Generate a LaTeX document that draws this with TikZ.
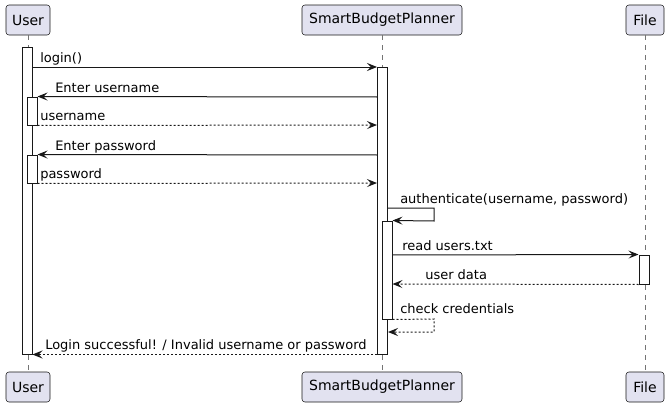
\documentclass[tikz,border=0pt]{standalone}
\usepackage{fontspec}
\setmainfont{DejaVu Sans}
\usetikzlibrary{arrows.meta,fit}

\definecolor{partfill}{HTML}{E2E2F0}
\definecolor{linecol}{HTML}{181818}

\tikzset{
	part/.style={draw=linecol,fill=partfill,rounded corners=2.2pt,inner sep=0pt,
		minimum height=22.5pt,font=\fontsize{10.5pt}{12pt}\selectfont},
	life/.style={draw=linecol!60,line width=0.6pt,dash pattern=on 3.75pt off 3.75pt},
	bar/.style={draw=linecol,fill=white,line width=0.75pt,inner sep=0pt,minimum width=7.5pt},
	msg/.style={draw=linecol,line width=0.75pt,-{Stealth[length=7.5pt,width=6pt,inset=3pt]}},
	reply/.style={msg,dash pattern=on 1.5pt off 1.5pt},
	lbl/.style={anchor=base west,inner sep=0pt,font=\fontsize{9.75pt}{11pt}\selectfont}
}

\begin{document}
\begin{tikzpicture}[x=0.75pt,y=-0.75pt]
	\useasboundingbox (0,0) rectangle (669,407);
	% participants
	\node[part,minimum width=33pt](uTop) at (28,20){User};
	\node[part,minimum width=120pt](sTop) at (382,20){SmartBudgetPlanner};
	\node[part,minimum width=28.5pt](fTop) at (645,20){File};
	\node[part,minimum width=33pt](uBot) at (28,387){User};
	\node[part,minimum width=120pt](sBot) at (382,387){SmartBudgetPlanner};
	\node[part,minimum width=28.5pt](fBot) at (645,387){File};
	% lifelines
	\draw[life](uTop) -- (uBot);
	\draw[life](sTop) -- (sBot);
	\draw[life](fTop) -- (fBot);
	% activations
	\node[bar,fit={(27,47) (27,354)}](uAct){};
	\node[bar,fit={(32,97) (32,125)}](uAct2){};
	\node[bar,fit={(32,155) (32,183)}](uAct3){};
	\node[bar,fit={(382.5,67) (382.5,354)}](sAct){};
	\node[bar,fit={(387,221) (387,319)}](sAct2){};
	\node[bar,fit={(644,255) (644,284)}](fAct){};
	% messages
	\draw[msg](uAct.east |- 0,67) -- (sAct.west |- 0,67);
	\node[lbl](lLogin) at (40,62.5){login()};
	\draw[msg](sAct.west |- 0,97) -- (uAct2.north east);
	\node[lbl](lEnterUser) at (55,92.5){Enter username};
	\draw[reply](uAct2.south east) -- (sAct.west |- 0,125);
	\node[lbl](lUser) at (40,120.5){username};
	\draw[msg](sAct.west |- 0,155) -- (uAct3.north east);
	\node[lbl](lEnterPass) at (55,150.5){Enter password};
	\draw[reply](uAct3.south east) -- (sAct.west |- 0,183);
	\node[lbl](lPass) at (40,178.5){password};
	\draw[msg](sAct.east |- 0,208) -- (434,208) -- (434,221) -- (sAct2.north east);
	\node[lbl](lAuth) at (400,203.5){authenticate(username, password)};
	\draw[msg](sAct2.east |- 0,255) -- (fAct.north west);
	\node[lbl](lRead) at (402,250.5){read users.txt};
	\draw[reply](fAct.south west) -- (sAct2.east |- 0,284);
	\node[lbl](lData) at (425,279.5){user data};
	\draw[reply](sAct2.south east) -- (434,319) -- (434,332) -- (sAct.east |- 0,332);
	\node[lbl](lCheck) at (400,313.5){check credentials};
	\draw[reply](sAct.south west) -- (uAct.south east);
	\node[lbl](lResult) at (45,349.5){Login successful! / Invalid username or password};
\end{tikzpicture}
\end{document}
